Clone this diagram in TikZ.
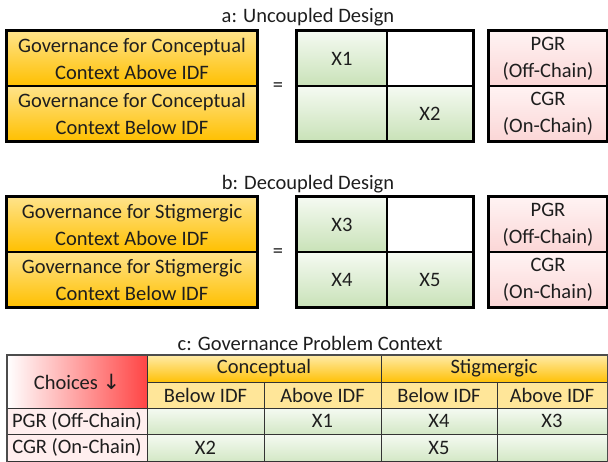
\documentclass[tikz,border=0pt]{standalone}
\usepackage{fontspec}
\setmainfont{Carlito}
\newfontfamily\arrowfont{DejaVu Sans}
\definecolor{govtop}{HTML}{FFE38A}
\definecolor{govbot}{HTML}{FFC000}
\definecolor{greentop}{HTML}{F5FAF2}
\definecolor{greenbot}{HTML}{C9E2B8}
\definecolor{pinktop}{HTML}{FFF3F3}
\definecolor{pinkbot}{HTML}{FBD6D6}
\definecolor{choicered}{HTML}{FF4545}
\definecolor{headtop}{HTML}{FFEBA8}
\definecolor{headbot}{HTML}{FFC107}
\definecolor{subhead}{HTML}{FFE699}
\definecolor{rowpink}{HTML}{FFEEEE}
\definecolor{inktext}{HTML}{1E1E1E}
\begin{document}
\begin{tikzpicture}[x=1pt,y=-1pt,
  txt/.style={font=\fontsize{20.5}{27}\selectfont, text=inktext, inner sep=0pt, align=center},
  cellbox/.style={txt, draw=black, line width=1.2pt},
  gov/.style={cellbox, minimum width=250pt, minimum height=55pt, top color=govtop, bottom color=govbot},
  mat/.style={cellbox, minimum height=55pt},
  green/.style={top color=greentop, bottom color=greenbot},
  res/.style={cellbox, minimum width=118pt, minimum height=55pt, top color=pinktop, bottom color=pinkbot},
  frame/.style={draw=black, line width=2.2pt},
  title/.style={txt},
  tcell/.style={txt, draw=black!80, line width=1pt},
  datacell/.style={tcell, top color=greentop, bottom color=greenbot!80},
  rowlab/.style={tcell, fill=rowpink, minimum width=140pt},
]
\useasboundingbox (0,0) rectangle (608,461);

% ---------- a: uncoupled design ----------
\node[title] (ta) at (308,17) {a: Uncoupled Design};
\node[gov] (ga1) at (132,58.5) {Governance for Conceptual\\Context Above IDF};
\node[gov] (ga2) at (132,113.5) {Governance for Conceptual\\Context Below IDF};
\draw[frame] (ga1.north west) rectangle (ga2.south east);
\node[txt] (eqa) at (278,87) {=};
\node[mat, green, minimum width=90pt] (ma11) at (342,58.5) {X1};
\node[mat, fill=white, minimum width=86pt] (ma12) at (430,58.5) {};
\node[mat, green, minimum width=90pt] (ma21) at (342,113.5) {};
\node[mat, green, minimum width=86pt] (ma22) at (430,113.5) {X2};
\draw[frame] (ma11.north west) rectangle (ma22.south east);
\node[res] (ra1) at (548,58.5) {PGR\\(Off-Chain)};
\node[res] (ra2) at (548,113.5) {CGR\\(On-Chain)};
\draw[frame] (ra1.north west) rectangle (ra2.south east);

% ---------- b: decoupled design ----------
\node[title] (tb) at (308,184) {b: Decoupled Design};
\node[gov] (gb1) at (132,224.5) {Governance for Stigmergic\\Context Above IDF};
\node[gov] (gb2) at (132,279.5) {Governance for Stigmergic\\Context Below IDF};
\draw[frame] (gb1.north west) rectangle (gb2.south east);
\node[txt] (eqb) at (278,253) {=};
\node[mat, green, minimum width=90pt] (mb11) at (342,224.5) {X3};
\node[mat, fill=white, minimum width=86pt] (mb12) at (430,224.5) {};
\node[mat, green, minimum width=90pt] (mb21) at (342,279.5) {X4};
\node[mat, green, minimum width=86pt] (mb22) at (430,279.5) {X5};
\draw[frame] (mb11.north west) rectangle (mb22.south east);
\node[res] (rb1) at (548,224.5) {PGR\\(Off-Chain)};
\node[res] (rb2) at (548,279.5) {CGR\\(On-Chain)};
\draw[frame] (rb1.north west) rectangle (rb2.south east);

% ---------- c: governance problem context ----------
\node[title] (tc) at (310,343) {c: Governance Problem Context};
\node[tcell, left color=white, right color=choicered, minimum width=140pt, minimum height=53pt]
  (choices) at (77,381.5) {Choices {\arrowfont\fontsize{21}{24}\selectfont ↓}};
\node[tcell, top color=headtop, bottom color=headbot, minimum width=234pt, minimum height=27pt]
  (conc) at (264,368.5) {Conceptual};
\node[tcell, top color=headtop, bottom color=headbot, minimum width=226pt, minimum height=27pt]
  (stig) at (494,368.5) {Stigmergic};
\node[tcell, fill=subhead, minimum width=117pt, minimum height=26pt] (cb) at (205.5,395) {Below IDF};
\node[tcell, fill=subhead, minimum width=117pt, minimum height=26pt] (ca) at (322.5,395) {Above IDF};
\node[tcell, fill=subhead, minimum width=116pt, minimum height=26pt] (sb) at (439,395) {Below IDF};
\node[tcell, fill=subhead, minimum width=110pt, minimum height=26pt] (sa) at (552,395) {Above IDF};
\node[rowlab, minimum height=26pt] (pgr) at (77,421) {PGR (Off-Chain)};
\node[rowlab, minimum height=27pt] (cgr) at (77,447.5) {CGR (On-Chain)};
\node[datacell, minimum width=117pt, minimum height=26pt] (p1) at (205.5,421) {};
\node[datacell, minimum width=117pt, minimum height=26pt] (p2) at (322.5,421) {X1};
\node[datacell, minimum width=116pt, minimum height=26pt] (p3) at (439,421) {X4};
\node[datacell, minimum width=110pt, minimum height=26pt] (p4) at (552,421) {X3};
\node[datacell, minimum width=117pt, minimum height=27pt] (c1) at (205.5,447.5) {X2};
\node[datacell, minimum width=117pt, minimum height=27pt] (c2) at (322.5,447.5) {};
\node[datacell, minimum width=116pt, minimum height=27pt] (c3) at (439,447.5) {X5};
\node[datacell, minimum width=110pt, minimum height=27pt] (c4) at (552,447.5) {};
\draw[draw=black!70, line width=2pt] (choices.south west) |- (stig.north east) -- (p4.north east -| stig.north east) -- (c4.south east);
\draw[draw=black!70, line width=2pt] (choices.south west) -- (cgr.south west);
\end{tikzpicture}
\end{document}
